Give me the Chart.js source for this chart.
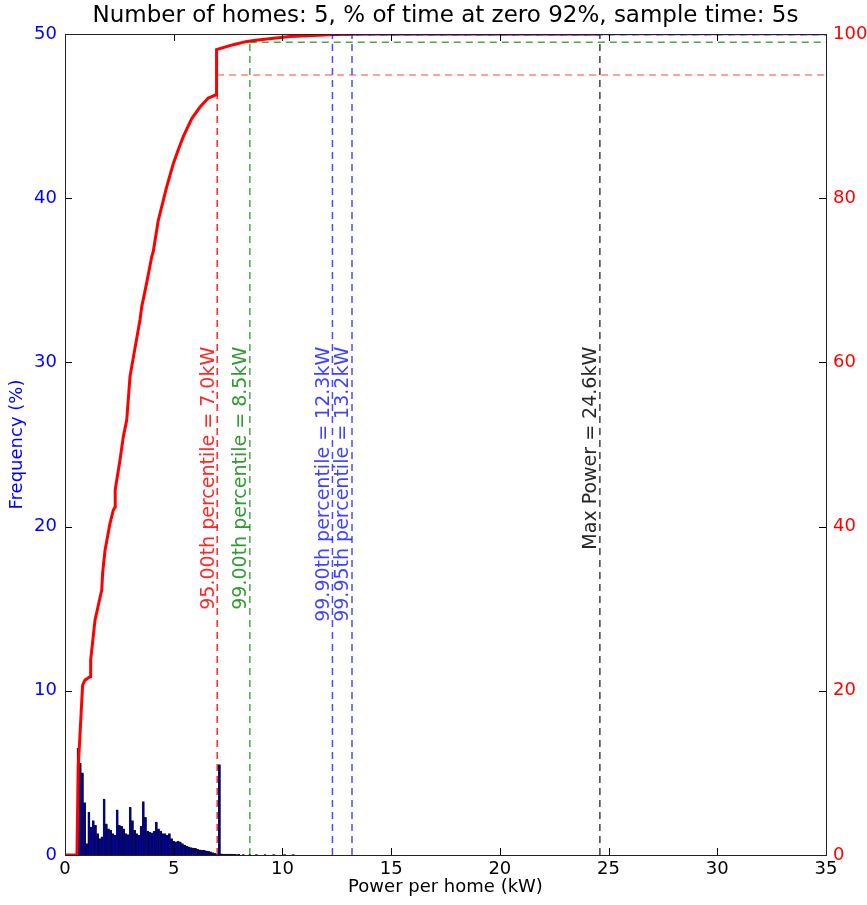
<!DOCTYPE html>
<html>
<head>
<meta charset="utf-8">
<script src="https://cdn.jsdelivr.net/npm/chart.js@4.4.1/dist/chart.umd.min.js"></script>
<style>
html,body{margin:0;padding:0;background:#fff;}
#wrap{width:867px;height:905px;}
</style>
</head>
<body>
<div id="wrap"><canvas id="c" width="867" height="905"></canvas></div>
<script>
// ---- data ----
const titleText = "Number of homes: 5, % of time at zero 92%, sample time: 5s";
const xTickLabels = [0, 5, 10, 15, 20, 25, 30, 35];
const freqTickLabels = [0, 10, 20, 30, 40, 50];
const cdfTickLabels = [0, 20, 40, 60, 80, 100];

// histogram (Frequency %, left axis)
const binCenters = [0.6,0.7,0.8,0.9,1.0,1.1,1.2,1.3,1.4,1.5,1.6,1.7,1.8,1.9,2.0,2.1,2.2,2.3,2.4,2.5,
  2.6,2.7,2.8,2.9,3.0,3.1,3.2,3.3,3.4,3.5,3.6,3.7,3.8,3.9,4.0,4.1,4.2,4.3,4.4,4.5,
  4.6,4.7,4.8,4.9,5.0,5.1,5.2,5.3,5.4,5.5,5.6,5.7,5.8,5.9,6.0,6.1,6.2,6.3,6.4,6.5,
  6.6,6.7,6.8,6.9,7.0,7.1,7.2,7.3,7.4,7.5,7.6,7.7,7.8,7.9,8.0,8.2,8.5,8.8,9.2,9.6,10.1,10.5];
const binFreq = [6.5,5.6,5.0,3.2,0.7,2.6,1.7,2.1,1.8,1.3,1.0,1.1,3.4,1.9,1.6,1.5,1.3,1.2,2.75,1.8,
  1.75,1.6,1.3,1.25,2.9,2.1,1.5,1.3,1.2,1.75,3.25,2.3,1.45,1.4,1.35,1.45,2.0,1.6,1.45,1.3,
  1.3,1.2,1.3,1.0,0.85,0.8,0.85,0.8,0.7,0.6,0.55,0.5,0.45,0.42,0.4,0.35,0.32,0.3,0.28,0.25,
  0.22,0.2,0.15,0.1,0.05,5.5,0.07,0.06,0.06,0.05,0.05,0.04,0.04,0.03,0.04,0.03,0.03,0.02,0.03,0.02,0.02,0.02];

// cumulative curve (%, right axis)
const cdfPower = [0,0.55,0.61,0.81,0.92,1.15,1.18,1.38,1.69,1.73,1.84,2.07,2.22,2.30,2.31,2.53,2.68,2.84,2.99,3.45,
  3.53,3.75,3.99,4.06,4.29,4.68,4.98,5.21,5.44,5.83,6.21,6.59,6.95,6.97,7.74,8.36,8.97,10.35,12.2,13.5,24.6];
const cdfPercent = [0,0,10.7,20.7,21.3,21.7,23.7,28.6,32.3,34.3,37.1,40.4,42.0,42.4,44.5,48.1,50.9,53.0,58.3,65.2,
  66.8,69.6,72.9,73.5,77.3,81.4,84.2,85.9,87.5,89.7,91.1,92.2,92.6,98.1,98.7,99.1,99.3,99.7,99.9,100,100];

// percentile markers
const pctLevels = [95.00, 99.00, 99.90, 99.95];
const pctPower = [7.0, 8.5, 12.3, 13.2];
const pctLabels = ["95.00th percentile = 7.0kW", "99.00th percentile = 8.5kW",
                   "99.90th percentile = 12.3kW", "99.95th percentile = 13.2kW"];
const maxPower = 24.6;
const maxLabel = "Max Power = 24.6kW";
const xMax = 35;

// ---- styles ----
const vColors = ["rgba(255,0,0,0.85)", "rgba(0,128,0,0.7)", "rgba(0,0,255,0.7)", "rgba(0,0,255,0.7)"];
const hColors = ["rgba(255,0,0,0.5)", "rgba(0,128,0,0.7)", "rgba(0,0,255,0.7)", "rgba(0,0,255,0.7)"];
const labelColors = ["rgba(255,0,0,0.85)", "rgba(0,128,0,0.8)", "rgba(0,0,255,0.75)", "rgba(0,0,255,0.75)"];
const FONT = "'DejaVu Sans', sans-serif";

const datasets = [];
pctPower.forEach((p, i) => {
  datasets.push({type:'line', yAxisID:'y2', order:1, data:[{x:p,y:0},{x:p,y:pctLevels[i]}],
    borderColor:vColors[i], borderWidth:1.5, borderDash:[7,5], pointRadius:0, fill:false});
  datasets.push({type:'line', yAxisID:'y2', order:1, data:[{x:p,y:pctLevels[i]},{x:xMax,y:pctLevels[i]}],
    borderColor:hColors[i], borderWidth:1.5, borderDash:[7,5], pointRadius:0, fill:false});
});
datasets.push({type:'line', yAxisID:'y2', order:1, data:[{x:maxPower,y:0},{x:maxPower,y:100}],
  borderColor:"rgba(0,0,0,0.75)", borderWidth:1.5, borderDash:[7,5], pointRadius:0, fill:false});
datasets.push({type:'line', yAxisID:'y2', order:2, data:cdfPower.map((x,i)=>({x:x,y:cdfPercent[i]})),
  borderColor:"#ff0000", borderWidth:3, pointRadius:0, fill:false, tension:0});
datasets.push({type:'bar', yAxisID:'y', order:3, data:binCenters.map((x,i)=>({x:x,y:binFreq[i]})),
  backgroundColor:"#00008a", borderColor:"rgba(0,0,0,0.9)", borderWidth:{top:1,left:0.4,right:0.4,bottom:0},
  borderSkipped:false, barPercentage:1.0, categoryPercentage:1.0});

const decor = {
  id:'decor',
  afterDatasetsDraw(chart){
    const ctx = chart.ctx, a = chart.chartArea;
    const xs = chart.scales.x, ys = chart.scales.y, y2 = chart.scales.y2;
    ctx.save();
    // title centred over the plot area
    ctx.font = "23px " + FONT;
    ctx.fillStyle = "#000";
    ctx.textAlign = 'center';
    ctx.textBaseline = 'middle';
    ctx.fillText(titleText, (a.left + a.right) / 2, 16);
    // rotated marker labels
    ctx.font = "19px " + FONT;
    ctx.textAlign = 'right';
    ctx.textBaseline = 'bottom';
    const anchorY = ys.getPixelForValue(30.95);
    const drawLbl = (val, txt, col) => {
      const px = xs.getPixelForValue(val) + 1;
      ctx.save();
      ctx.translate(px, anchorY);
      ctx.rotate(-Math.PI/2);
      ctx.fillStyle = col;
      ctx.fillText(txt, 0, 0);
      ctx.restore();
    };
    pctPower.forEach((p,i)=>drawLbl(p, pctLabels[i], labelColors[i]));
    drawLbl(maxPower, maxLabel, "rgba(0,0,0,0.85)");
    // inward ticks
    ctx.strokeStyle = "#000";
    ctx.lineWidth = 1;
    const L = 7;
    ctx.beginPath();
    xTickLabels.forEach(v => {
      const px = Math.round(xs.getPixelForValue(v)) + 0.5;
      ctx.moveTo(px, a.bottom); ctx.lineTo(px, a.bottom - L);
      ctx.moveTo(px, a.top); ctx.lineTo(px, a.top + L);
    });
    freqTickLabels.forEach(v => {
      const py = Math.round(ys.getPixelForValue(v)) + 0.5;
      ctx.moveTo(a.left, py); ctx.lineTo(a.left + L, py);
    });
    cdfTickLabels.forEach(v => {
      const py = Math.round(y2.getPixelForValue(v)) + 0.5;
      ctx.moveTo(a.right, py); ctx.lineTo(a.right - L, py);
    });
    ctx.stroke();
    // frame
    ctx.strokeStyle = "#222";
    ctx.strokeRect(Math.round(a.left)+0.5, Math.round(a.top)+0.5, Math.round(a.right-a.left), Math.round(a.bottom-a.top));
    ctx.restore();
  }
};

Chart.defaults.font.family = FONT;
Chart.defaults.font.size = 18;
Chart.defaults.color = "#000";

new Chart(document.getElementById('c'), {
  type:'bar',
  data:{datasets},
  options:{
    responsive:false, animation:false, devicePixelRatio:1,
    layout:{padding:{top:34, left:0, right:0, bottom:0}},
    plugins:{
      legend:{display:false}, tooltip:{enabled:false}, title:{display:false}
    },
    scales:{
      x:{type:'linear', min:0, max:xMax, offset:false, position:'bottom',
        grid:{display:false, drawTicks:false}, border:{display:false},
        ticks:{stepSize:5, autoSkip:false, padding:4, color:"#000", maxRotation:0, font:{size:18}},
        title:{display:true, text:"Power per home (kW)", color:"#000", font:{size:18}, padding:{top:0,bottom:7}},
        afterFit(s){ s.height = 50; }
      },
      y:{type:'linear', position:'left', min:0, max:50,
        grid:{display:false, drawTicks:false}, border:{display:false},
        ticks:{stepSize:10, autoSkip:false, padding:8, color:"#0000ff", font:{size:18}},
        title:{display:true, text:"Frequency (%)", color:"#0000ff", font:{size:18}, padding:{top:7,bottom:0}},
        afterFit(s){ s.width = 65; }
      },
      y2:{type:'linear', position:'right', min:0, max:100,
        grid:{display:false, drawTicks:false}, border:{display:false},
        ticks:{stepSize:20, autoSkip:false, padding:7, color:"#ff0000", font:{size:18}},
        afterFit(s){ s.width = 41; }
      }
    }
  },
  plugins:[decor]
});
</script>
</body>
</html>
